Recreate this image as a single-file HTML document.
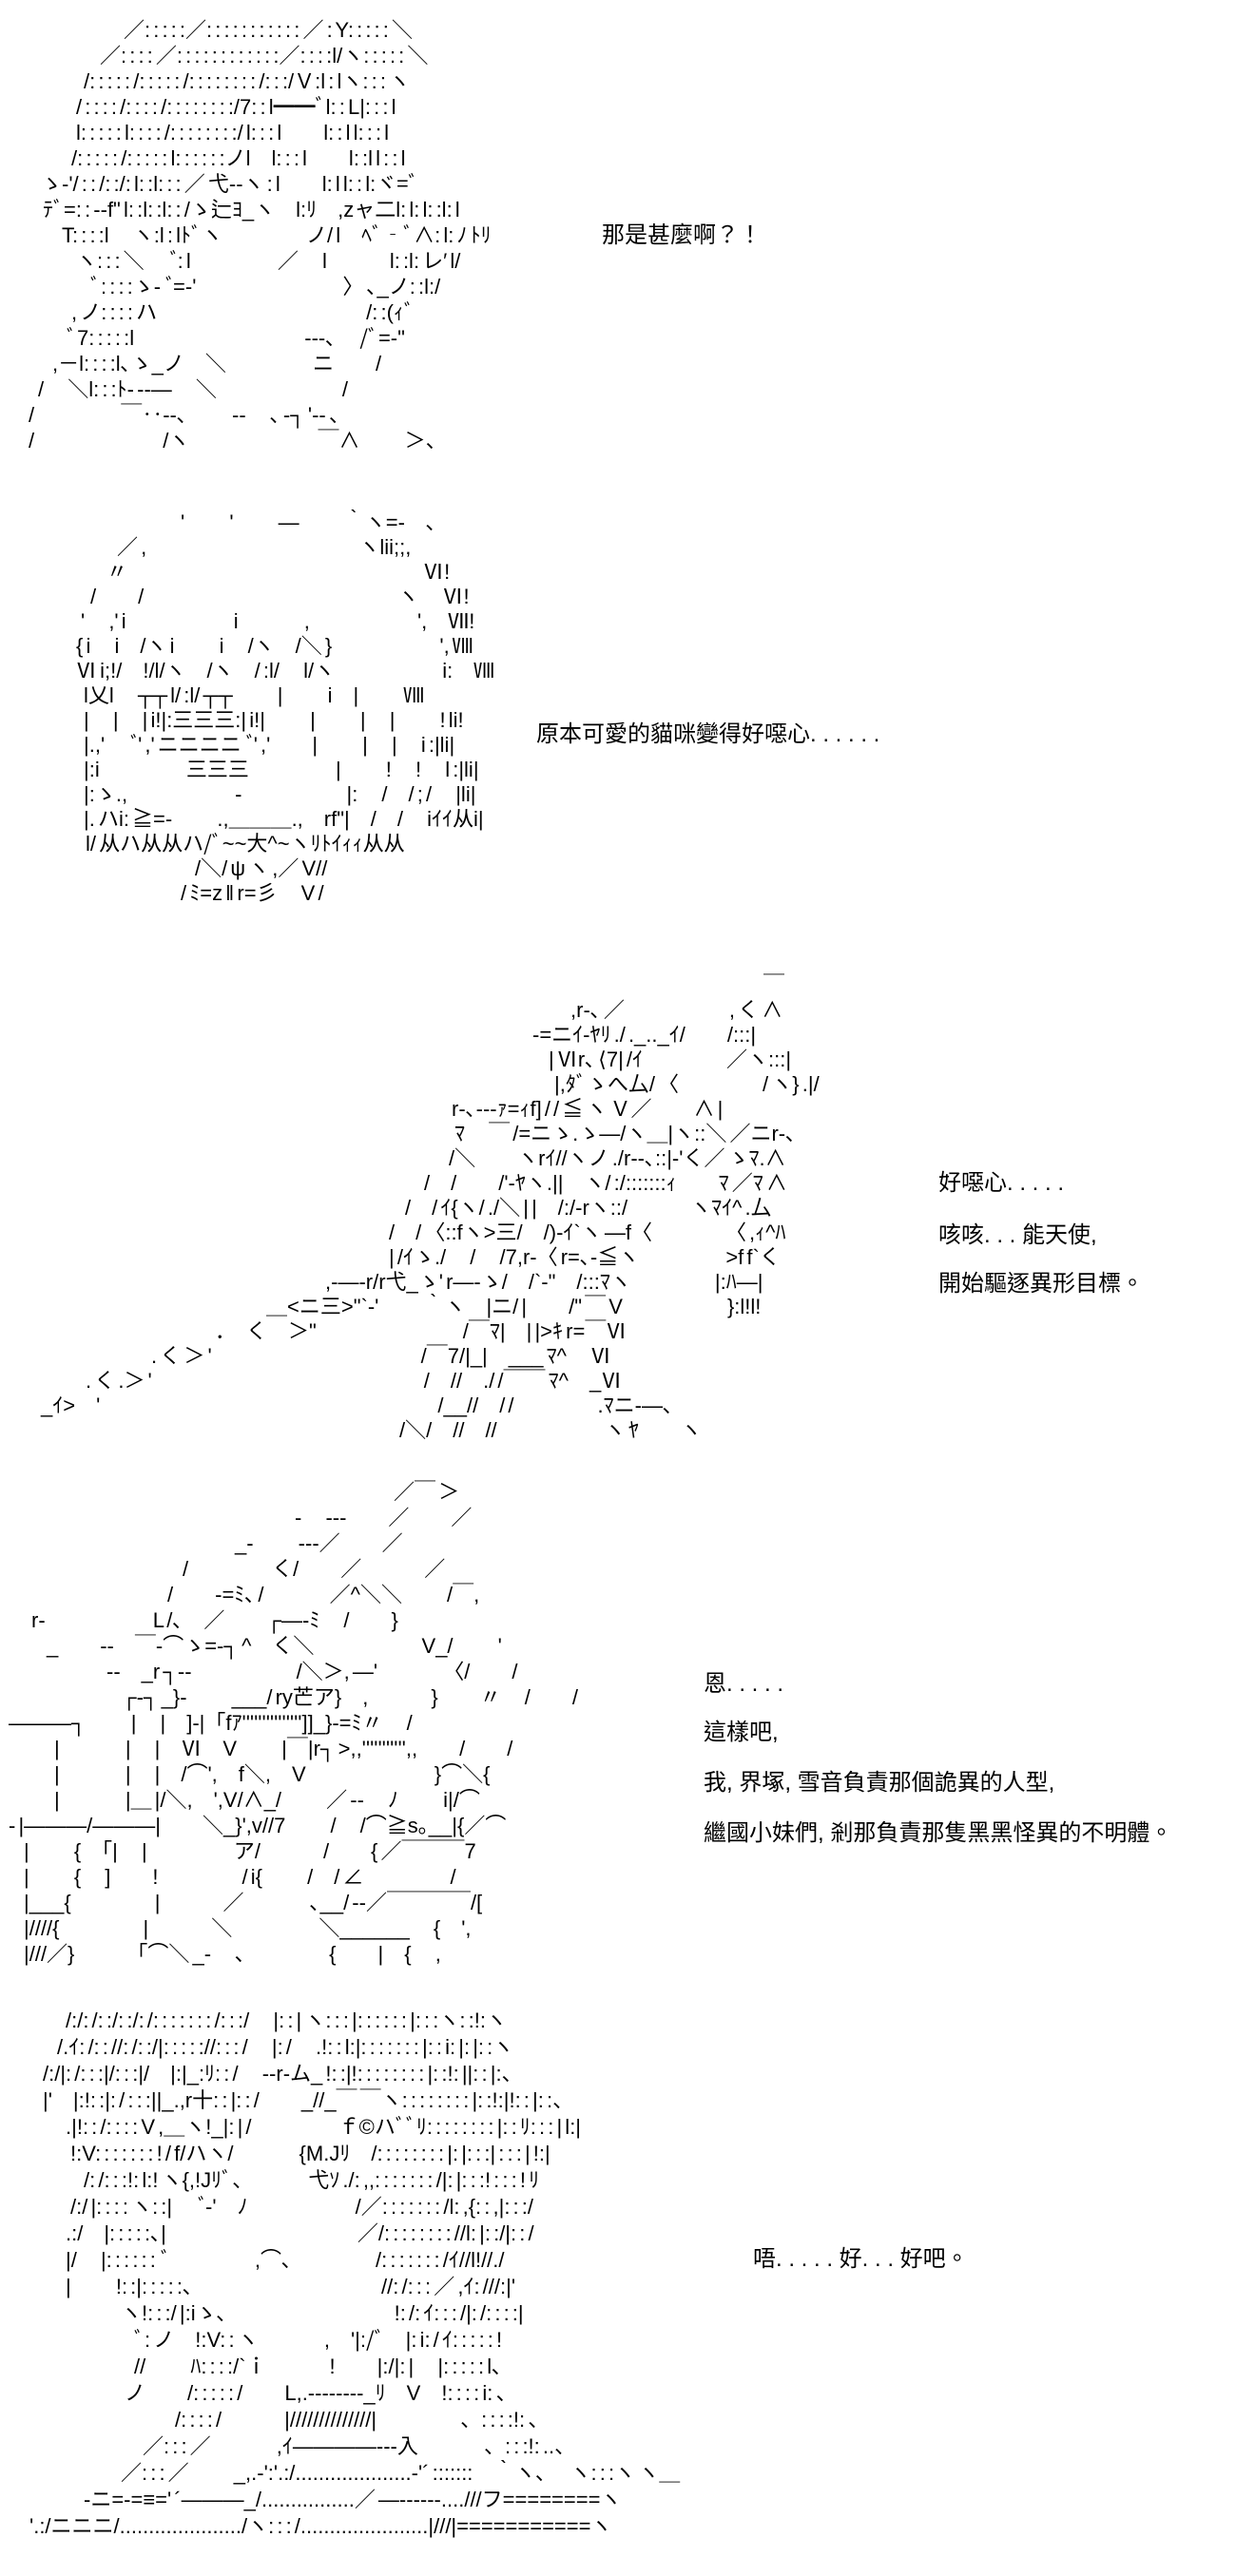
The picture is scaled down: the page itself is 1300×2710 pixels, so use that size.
<!DOCTYPE html>
<html><head><meta charset="utf-8">
<style>
html,body{margin:0;padding:0;background:#fff;}
body{width:1300px;height:2710px;position:relative;overflow:hidden;}
.p{position:absolute;left:0;white-space:normal;font-family:"Liberation Sans","Noto Sans CJK JP",sans-serif;font-size:22px;color:#000;word-spacing:-3px;}
.p div{height:27px;line-height:27px;white-space:pre;}
.p.l26 div{height:26px;line-height:26px;}
.p.l28 div{height:28px;line-height:28px;}
.t{position:absolute;white-space:pre;font-family:"Liberation Sans","Noto Sans CJK TC",sans-serif;font-size:24px;line-height:28px;color:#000;}
</style></head><body>

<div class="p" style="top:18px">
<div style="padding-left:130px">／: : : : :／: : : : : : : : : : : ／ : Y: : : : : ＼</div>
<div style="padding-left:105px">／: : : : ／: : : : : : : : : : : :／: : : :l/ヽ: : : : : ＼</div>
<div style="padding-left:88px">/: : : : : /: : : : : /: : : : : : : : /: : :/Ｖ:l : lヽ: : : ヽ</div>
<div style="padding-left:80px">/ : : : : /: : : : /: : : : : : : :/7: : l━━ﾞl: : L|: : : l</div>
<div style="padding-left:80px">l: : : : : l: : : : /: : : : : : : :/ l: : : l　　l: : l l: : : l</div>
<div style="padding-left:75px">/: : : : : /: : : : : l: : : : : :ノl　l: : : l　　l: :l l : : l</div>
<div style="padding-left:43px">ゝ-'/ : : /: :/: l: :l: : : ／ 弋-‐ヽ : l　　l: l l: : l:ヾ=ﾞ</div>
<div style="padding-left:45px">ﾃﾞ=: : ‐-f" l: :l: :l: : /ゝ辷ﾖ_ヽ　l:ﾘ　,zャ二l: l: l: :l: l</div>
<div style="padding-left:65px">T: : : :l　 ヽ:l : lﾄﾞヽ　　　　ノ/ l　ﾍﾞ‐ﾞ∧: l: ﾉ ﾄﾘ</div>
<div style="padding-left:80px">ヽ: : : ＼　 ﾞ: l　　　　 ／　 l　　　l: :l: レ′ l/</div>
<div style="padding-left:95px">ﾞ: : : :ゝ‐ ﾞ=‐'　　　　　　　〉 ､_ノ: :l:/</div>
<div style="padding-left:75px">, ノ: : : : ハ　　　　　　　　　　/: :(ｨﾞ</div>
<div style="padding-left:70px">ﾞ7: : : : :l　　　　　　　　 -‐‐､　 /ﾞ=‐"</div>
<div style="padding-left:55px">,－l: : : :l､ゝ_ノ　＼　　　　 ニ　　/</div>
<div style="padding-left:40px">/　 ＼l: : :ﾄ‐ -‐―　 ＼　　　　　　/</div>
<div style="padding-left:30px">/　　　　 ￣‥‐-､　　 ‐‐　 ､ ‐┐ '‐‐ 、</div>
<div style="padding-left:30px">/　　　　　　 /ヽ　　　　　　 ￣∧　　 ＞、</div>
</div>
<div class="t" style="left:633px;top:234px">那是甚麼啊？！</div>

<div class="p l26" style="top:537px">
<div style="padding-left:190px">'　　 '　　 ―　　 ｀ヽ=‐　､</div>
<div style="padding-left:123px">／ ,　　　　　　　　　　 ヽlii;;,</div>
<div style="padding-left:112px">〃　　　　　　　　　　　　　　 Ⅵ!</div>
<div style="padding-left:95px">/　　/　　　　　　　　　　　　 ヽ　 Ⅵ!</div>
<div style="padding-left:85px">'　 ,' i　　　　　 i　　　 ,　　　　　 ',　Ⅶ!</div>
<div style="padding-left:80px">{ i　 i　/ヽ i　　 i　 /ヽ　/＼ }　　　　　 ', Ⅷ</div>
<div style="padding-left:80px">Ⅵ i;!/　!/l/ヽ　/ヽ　/ :l/　 l/ヽ　　　　　 i:　Ⅷ</div>
<div style="padding-left:88px">l乂l　 ┬┬ l/ :l/ ┬┬　　 |　　 i　|　　 Ⅷ</div>
<div style="padding-left:88px">|　 |　 | i!|:三三三:| i!|　　 |　　 |　 |　　 ! li!</div>
<div style="padding-left:88px">|.,'　 ﾞ' ,' ニニニニ ﾞ' ,'　　|　　 |　 |　 i :|li|</div>
<div style="padding-left:88px">|:i　　　　 三三三　　　　 |　　 !　 !　 l :|li|</div>
<div style="padding-left:88px">|:ゝ.,　　　　　 -　　　　　|:　 /　/ ; /　 |li|</div>
<div style="padding-left:88px">|. ハi: ≧=‐　　 .,＿＿＿.,　rf"|　/　/　 iｲｲ从i|</div>
<div style="padding-left:90px">l/ 从ハ从从ハ/ﾞ~~大^~ヽﾘﾄｲｨｨ从从</div>
<div style="padding-left:205px">/＼/ ψ ヽ ,／ V//</div>
<div style="padding-left:190px">/ ﾐ=z ‖ r=彡　 V /</div>
</div>
<div class="t" style="left:564px;top:759px">原本可愛的貓咪變得好噁心. . . . . .</div>

<div class="p l26" style="top:1024px">
<div style="padding-left:803px">￣</div>
<div style="padding-left:600px">,r‐､ ／　　　　　, く ∧</div>
<div style="padding-left:560px">‐=ニｲ‐ﾔﾘ ./ ._.._ｲ/　　/:::|</div>
<div style="padding-left:577px">| Ⅵr､ ⟨7| /ｲ　　　　／ヽ:::|</div>
<div style="padding-left:583px">|,ﾀﾞゝへ厶/ 〈　　　　/ ヽ} .|/</div>
<div style="padding-left:475px">r‐､‐‐‐ｧ=ｨf] / / ≦ ヽ Ｖ／　　∧ |</div>
<div style="padding-left:478px">ﾏ　 ￣ /=ニゝ.ゝ―/ヽ＿|ヽ::＼ ／ニr‐､</div>
<div style="padding-left:472px">/＼　　ヽrｲ//ヽノ ./r‐-､::|‐'く／ ゝﾏ.∧</div>
<div style="padding-left:446px">/　/　　/'‐ﾔヽ.||　ヽ/ :/:::::::ｨ　　ﾏ ／ﾏ ∧</div>
<div style="padding-left:426px">/　/ ｲ{ヽ/ ./＼ | |　/:/‐rヽ::/　　　ヽﾏｲ^ .厶</div>
<div style="padding-left:409px">/　/ 〈::fヽ>三/　/)-ｲ`ヽ ―f〈　　　　〈 ,ｨ^ﾊ</div>
<div style="padding-left:409px">| /ｲゝ./　 /　 /7,r‐〈 r=､-≦ヽ　　　　 >f f`く</div>
<div style="padding-left:342px">,-―‐r/r弋_ゝ' r―‐ゝ/　/`‐"　/:::ﾏヽ　　　　|:ﾊ―|</div>
<div style="padding-left:280px">＿<ニ三>"`-'　　 ｀ヽ　|ニ/ |　　/" ￣ V　　　　　}:l!l!</div>
<div style="padding-left:226px">．　く　＞"　　　　　　　/￣ﾏ|　| |>ｷ r=￣Ⅵ</div>
<div style="padding-left:159px">. く ＞ '　　　　　　　　　　/￣7/|_|　___ ﾏ^　 Ⅵ</div>
<div style="padding-left:90px">. く .＞ '　　　　　　　　　　　　　/　//　./ /￣￣ ﾏ^　_Ⅵ</div>
<div style="padding-left:43px">_ｲ>　'　　　　　　　　　　　　　　　　 /__//　/ /　　　　.ﾏニ‐―､</div>
<div style="padding-left:420px">/＼/　//　//　　　　　 ヽ ﾔ　　ヽ</div>
</div>
<div class="t" style="left:987px;top:1231px">好噁心. . . . .</div>
<div class="t" style="left:987px;top:1286px">咳咳. . . 能天使,</div>
<div class="t" style="left:987px;top:1337px">開始驅逐異形目標。</div>

<div class="p" style="top:1556px">
<div style="padding-left:414px">／￣ ＞</div>
<div style="padding-left:310px">-　 ---　　／　　／</div>
<div style="padding-left:247px">_-　　 ---／　　／</div>
<div style="padding-left:192px">/　　　　く/　　／　　　／</div>
<div style="padding-left:176px">/　　‐=ﾐ､ /　　　 ／^＼＼　　 /￣,</div>
<div style="padding-left:33px">r‐　　　　　 L /､　／　　┌―‐ﾐ　 /　　}</div>
<div style="padding-left:49px">_　　--　￣‐⌒ゝ=‐┐ ^　く＼　　　　　 V_/　　 '</div>
<div style="padding-left:112px">‐‐　_r ┐--　　　　　/＼＞, ―'　　　 〈/　　/</div>
<div style="padding-left:128px">┌‐┐ _}‐　　 ___/ ry芒ア}　,　　　}　　〃　 /　　/</div>
<div style="padding-left:9px">―――┐　　 |　 |　]‐|「fｱ''''''''''''''']]_}‐=ﾐ〃　 /</div>
<div style="padding-left:57px">|　　　 |　 |　Ⅵ　V　　 |￣|r┐ >,,''''''''''',,　　/　　/</div>
<div style="padding-left:57px">|　　　 |　 |　/⌒',　f＼,　V　　　　　　 }⌒＼{</div>
<div style="padding-left:57px">|　　　 |＿ |/＼,　',V/∧_/　　 ／ --　 ﾉ　　 i|/⌒</div>
<div style="padding-left:9px">- |―――/―――|　　＼_}',v//7　　 /　 /⌒≧s｡__|{／⌒</div>
<div style="padding-left:25px">|　　 {　「|　 |　　　　 ア/　　　/　　{ ／￣￣￣7</div>
<div style="padding-left:25px">|　　 {　 ]　　!　　　　/ i{　　 /　/ ∠　　　　 /</div>
<div style="padding-left:25px">|___{　　　　|　　　／　　　 ､__/ --／￣￣￣￣/[</div>
<div style="padding-left:25px">|////{　　　　|　　　＼　　　　 ＼______　 {　',</div>
<div style="padding-left:25px">|///／}　　　「⌒＼ _-　 ､　　　　{　　|　{　 ,</div>
</div>
<div class="t" style="left:740px;top:1758px">恩. . . . .</div>
<div class="t" style="left:740px;top:1809px">這樣吧,</div>
<div class="t" style="left:740px;top:1862px">我, 界塚, 雪音負責那個詭異的人型,</div>
<div class="t" style="left:740px;top:1915px">繼國小妹們, 剎那負責那隻黑黑怪異的不明體。</div>

<div class="p l28" style="top:2112px">
<div style="padding-left:69px">/:/: /: :/: :/: /: : : : : : : /: : :/　 |: : | ヽ: : : |: : : : : : |: : :ヽ: :!:ヽ</div>
<div style="padding-left:60px">/.ｲ: /: : //: /: :/|: : : : ://: : : /　 |: /　 .!: : l:|: : : : : : : |: : i: |: |: :ヽ</div>
<div style="padding-left:45px">/:/|: /: : :|/: : :|/　|:|_:ﾘ: : /　 ‐‐r‐ム_ !: :|!: : : : : : : : |: :!: ||: : |:、</div>
<div style="padding-left:45px">|'　|:!: :|: / : : :||_.,r十: : |: : /　　_//_￣ ￣ヽ: : : : : : : : |: :!:|!: : |: :、</div>
<div style="padding-left:69px">.|!: : /: : : : V ,＿ヽ!_|: | /　　　　 ｆ©ハﾞﾞﾘ: : : : : : : : |: : ﾘ: : : | l:|</div>
<div style="padding-left:74px">!:V: : : : : : : ! / f/ハヽ/　　　 {M.Jﾘ　/: : : : : : : : |: |: : :| : : : | !:|</div>
<div style="padding-left:88px">/: /: : :!: l:! ヽ{,!Jﾘﾞ、　　　 弋ｿ ./: ,,: : : : : : : /|: |: : :! : : : ! ﾘ</div>
<div style="padding-left:74px">/:/ |: : : : ヽ: :|　 ﾞ‐'　ﾉ　　　　　 /／: : : : : : : /l: ,{: : ,|: : :/</div>
<div style="padding-left:69px">.:/　|: : : : :､|　　　　　　　　　 ／/: : : : : : : : //l: |: :/|: : /</div>
<div style="padding-left:69px">|/　 |: : : : : : ﾞ　　　　 ,⌒､　　　　/: : : : : : : /ｲ//l!//./</div>
<div style="padding-left:69px">|　　 !: :|: : : : :､　　　　　　　　　//: /: : : ／ ,ｲ: ///:|'</div>
<div style="padding-left:127px">ヽ!: : :/ |:iゝ､　　　　　　　　!: /: ｲ: : : /|: /: : : :|</div>
<div style="padding-left:141px">ﾞ: ノ　!:V: : ヽ　　　 ,　'|:/ﾞ　|: i: / ｲ: : : : : !</div>
<div style="padding-left:141px">//　　 ﾊ: : : :/`ｉ　　　!　　|:/|: |　 |: : : : : l､</div>
<div style="padding-left:131px">ノ　　/: : : : : /　　L,.‐‐‐‐‐‐‐‐_ﾘ　V　!: : : : i: 、</div>
<div style="padding-left:184px">/: : : : /　　　|//////////////|　　　　、: : : :!: 、</div>
<div style="padding-left:150px">／: : : ／　　　 ,ｲ――――‐‐‐入　　　 、: : :!: ..、</div>
<div style="padding-left:127px">／: : : ／　　 _,.‐':'.:/....................‐'´ :::::::　｀ヽ､　 ヽ: : :ヽ ヽ＿</div>
<div style="padding-left:88px">‐ニ=‐=≡=' ´―――_/................／ ―‐‐‐‐‐‐....///フ========ヽ</div>
<div style="padding-left:31px">'.:/ニニニ/...................../ヽ: : : /......................|///|===========ヽ</div>
</div>
<div class="t" style="left:792px;top:2363px">唔. . . . . 好. . . 好吧。</div>

</body></html>
